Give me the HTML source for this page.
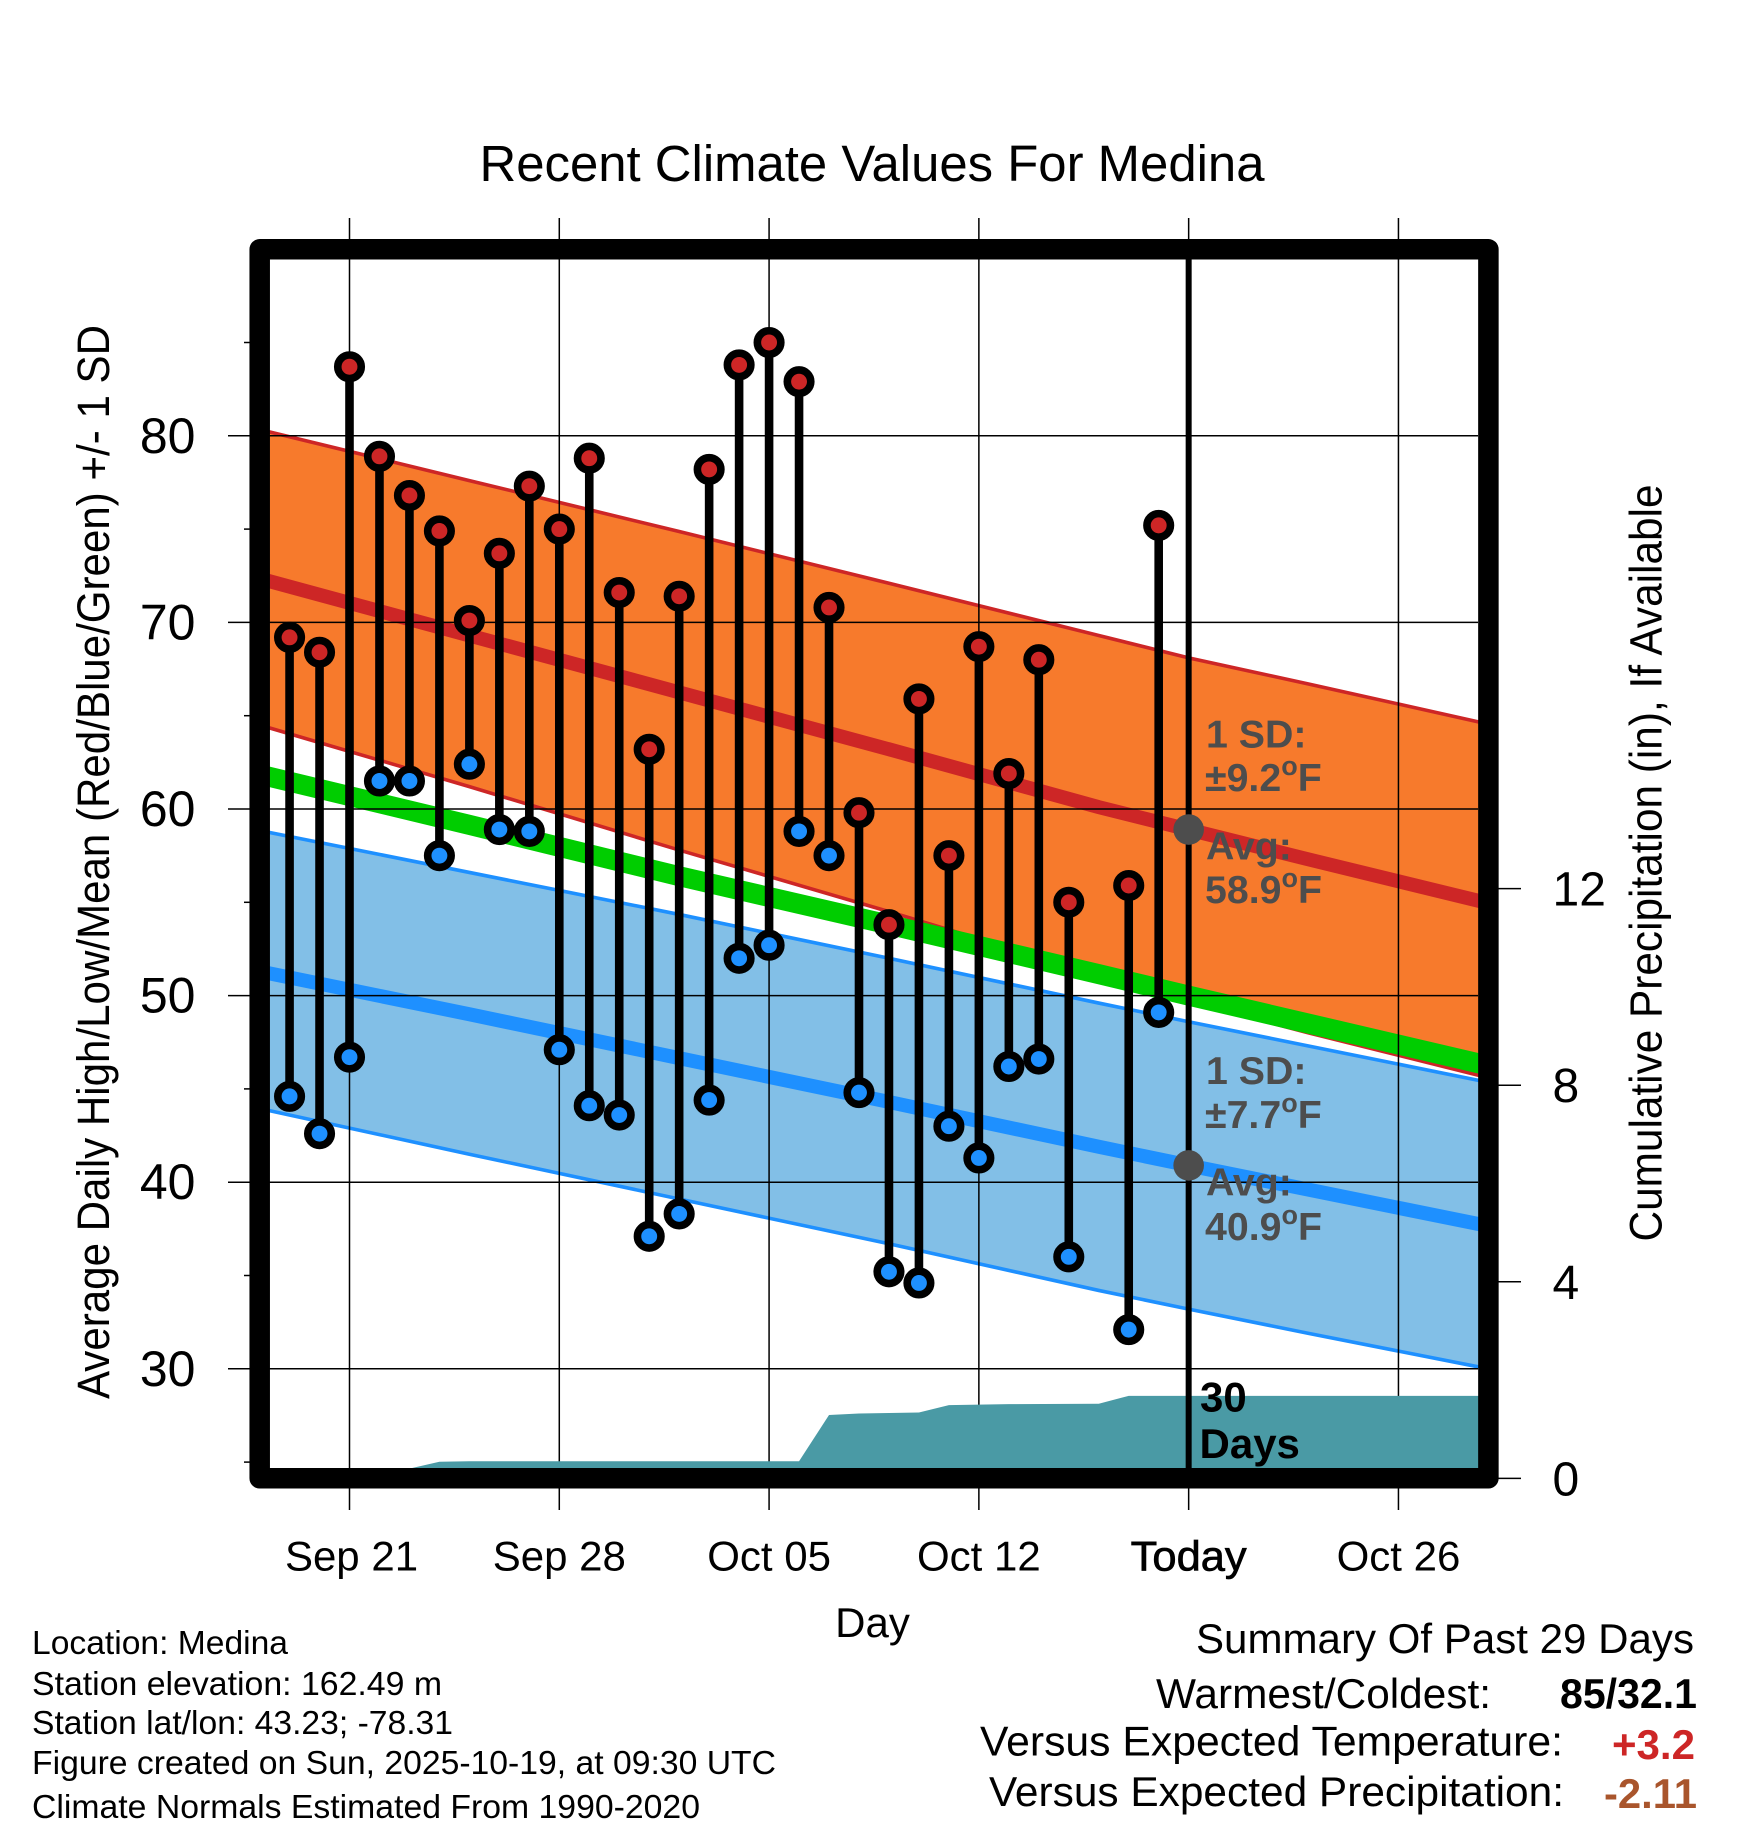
<!DOCTYPE html>
<html lang="en">
<head>
<meta charset="utf-8">
<title>Recent Climate Values For Medina</title>
<style>
html,body{margin:0;padding:0;background:#fff;}
svg{display:block;font-family:"Liberation Sans",Arial,sans-serif;}
</style>
</head>
<body>
<svg id="chart" width="1748" height="1828" viewBox="0 0 1748 1828" xmlns="http://www.w3.org/2000/svg">
  <defs>
    <clipPath id="plot-clip"><rect x="259" y="249" width="1230" height="1230"/></clipPath>
  </defs>
  <rect x="0" y="0" width="1748" height="1828" fill="#ffffff"/>
  <text x="872" y="181" font-size="51" text-anchor="middle" textLength="785" lengthAdjust="spacingAndGlyphs">Recent Climate Values For Medina</text>
  <g id="bands" clip-path="url(#plot-clip)"></g>
  <g id="grid"></g>
  <g id="precip" clip-path="url(#plot-clip)"></g>
  <g id="stems"></g>
  <g id="today"></g>
  <rect x="259.7" y="249.3" width="1228.7" height="1229" fill="none" stroke="#000" stroke-width="20.5" stroke-linejoin="round"/>
  <g id="labels" font-size="50"></g>

  <text transform="translate(109,862) rotate(-90)" font-size="45" text-anchor="middle" textLength="1074" lengthAdjust="spacingAndGlyphs">Average Daily High/Low/Mean (Red/Blue/Green) +/- 1 SD</text>
  <text transform="translate(1661.5,863) rotate(-90)" font-size="45" text-anchor="middle" textLength="757" lengthAdjust="spacingAndGlyphs">Cumulative Precipitation (in), If Available</text>
  <text x="872.5" y="1637" font-size="42" text-anchor="middle">Day</text>

  <g font-size="39.3" font-weight="bold" fill="#4d4d4d">
    <text x="1206" y="747.5">1 SD:</text>
    <text x="1205" y="791">±9.2<tspan font-size="27" dy="-16">o</tspan><tspan dy="16">F</tspan></text>
    <text x="1206" y="859.5">Avg:</text>
    <text x="1205" y="903">58.9<tspan font-size="27" dy="-16">o</tspan><tspan dy="16">F</tspan></text>
    <text x="1206" y="1084">1 SD:</text>
    <text x="1205" y="1128">±7.7<tspan font-size="27" dy="-16">o</tspan><tspan dy="16">F</tspan></text>
    <text x="1206" y="1195.6">Avg:</text>
    <text x="1205" y="1240">40.9<tspan font-size="27" dy="-16">o</tspan><tspan dy="16">F</tspan></text>
  </g>
  <text x="1200" y="1411.7" font-size="42" font-weight="bold">30</text>
  <text x="1199.5" y="1458" font-size="42" font-weight="bold">Days</text>

  <g font-size="33">
    <text x="32" y="1654" textLength="256" lengthAdjust="spacingAndGlyphs">Location: Medina</text>
    <text x="32" y="1695" textLength="410" lengthAdjust="spacingAndGlyphs">Station elevation: 162.49 m</text>
    <text x="32" y="1734" textLength="421" lengthAdjust="spacingAndGlyphs">Station lat/lon: 43.23; -78.31</text>
    <text x="32" y="1774" textLength="744" lengthAdjust="spacingAndGlyphs">Figure created on Sun, 2025-10-19, at 09:30 UTC</text>
    <text x="32" y="1818" textLength="668" lengthAdjust="spacingAndGlyphs">Climate Normals Estimated From 1990-2020</text>
  </g>

  <g font-size="42">
    <text x="1196" y="1653" textLength="498" lengthAdjust="spacingAndGlyphs">Summary Of Past 29 Days</text>
    <text x="1156" y="1708" textLength="335" lengthAdjust="spacingAndGlyphs">Warmest/Coldest:</text>
    <text x="1560" y="1708" font-weight="bold" textLength="137" lengthAdjust="spacingAndGlyphs">85/32.1</text>
    <text x="980" y="1755.7" textLength="583" lengthAdjust="spacingAndGlyphs">Versus Expected Temperature:</text>
    <text x="1612" y="1759" font-weight="bold" fill="#cd2626" textLength="83" lengthAdjust="spacingAndGlyphs">+3.2</text>
    <text x="989" y="1806" textLength="575" lengthAdjust="spacingAndGlyphs">Versus Expected Precipitation:</text>
    <text x="1604" y="1808" font-weight="bold" fill="#a9552c" textLength="93" lengthAdjust="spacingAndGlyphs">-2.11</text>
  </g>
</svg>
<script>
// Observation days, counted from Sep 21 (Oct 16 = day 25 has no record)
var obsDays = [-2,-1,0,1,2,3,4,5,6,7,8,9,10,11,12,13,14,15,16,17,18,19,20,21,22,23,24,26,27];
var highs = [69.2,68.4,83.7,78.9,76.8,74.9,70.1,73.7,77.3,75.0,78.8,71.6,63.2,71.4,78.2,83.8,85.0,82.9,70.8,59.8,53.8,65.9,57.5,68.7,61.9,68.0,55.0,55.9,75.2];
var lows = [44.6,42.6,46.7,61.5,61.5,57.5,62.4,58.9,58.8,47.1,44.1,43.6,37.1,38.3,44.4,52.0,52.7,58.8,57.5,44.8,35.2,34.6,43.0,41.3,46.2,46.6,36.0,32.1,49.1];

// Climate normals at sampled days
var normalDays = [-3,4,11,18,25,28,32,38];
var highPlusSd = [80.34,77.6,74.87,72.1,69.3,68.1,66.7,64.55];
var highMean = [72.35,69.3,66.25,63.2,60.1,58.9,57.3,54.95];
var highMinusSd = [64.5,61.2,57.8,54.5,51.1,49.7,48.0,45.6];
var overallMean = [61.85,59.15,56.4,53.8,51.15,50.0,48.5,46.25];
var lowPlusSd = [58.85,56.6,54.35,52.0,49.6,48.6,47.3,45.35];
var lowMean = [51.3,49.0,46.65,44.3,41.9,40.9,39.6,37.65];
var lowMinusSd = [43.95,41.5,39.1,36.7,34.2,33.2,31.9,30.0];

// Cumulative precipitation (inches)
var precipDays = [-3,1,2,3,4,15,16,17,18,19,20,21,22,25,26,38];
var precipValues = [0,0,0.2,0.34,0.35,0.35,1.29,1.32,1.33,1.34,1.49,1.50,1.51,1.52,1.68,1.68];

// Axis ticks
var xTickDays = [0,7,14,21,28,35];
var xTickLabels = ["Sep 21","Sep 28","Oct 05","Oct 12","Today","Oct 26"];
var yMajorTicks = [30,40,50,60,70,80];
var yMinorTicks = [25,35,45,55,65,75,85];
var precipTicks = [0,4,8,12];

// Today's normals
var todayDay = 28;
var todayHighAvg = 58.9;
var todayLowAvg = 40.9;

function xScale(d){ return 349.5 + 29.97 * d; }
function yScale(v){ return 809 + (60 - v) * 18.66; }
function pScale(v){ return 1478.4 - 49.15 * v; }

var NS = "http://www.w3.org/2000/svg";
function make(parent, tag, attrs){
  var el = document.createElementNS(NS, tag);
  for (var k in attrs) el.setAttribute(k, attrs[k]);
  parent.appendChild(el);
  return el;
}
function linePts(days, vals, scale){
  return days.map(function(d,i){ return xScale(d).toFixed(2) + "," + scale(vals[i]).toFixed(2); });
}

var bands = document.getElementById("bands");
var grid = document.getElementById("grid");
var precip = document.getElementById("precip");
var stems = document.getElementById("stems");
var today = document.getElementById("today");
var labels = document.getElementById("labels");

// Bands
var topPts = linePts(normalDays, highPlusSd, yScale);
var botPts = linePts(normalDays, highMinusSd, yScale).reverse();
var el;
el = make(bands, "polygon", {points: topPts.concat(botPts).join(" "), fill: "#f77a2c"});



var topLow = linePts(normalDays, lowPlusSd, yScale);
var botLow = linePts(normalDays, lowMinusSd, yScale).reverse();
el = make(bands, "polygon", {points: topLow.concat(botLow).join(" "), fill: "#82bfe7"});



el = make(bands, "polyline", {points: topPts.join(" "), fill: "none", stroke: "#cd2626", "stroke-width": 3.6});



el = make(bands, "polyline", {points: botPts.join(" "), fill: "none", stroke: "#cd2626", "stroke-width": 3.6});



el = make(bands, "polyline", {points: topLow.join(" "), fill: "none", stroke: "#1e90ff", "stroke-width": 3.6});



el = make(bands, "polyline", {points: botLow.join(" "), fill: "none", stroke: "#1e90ff", "stroke-width": 3.6});



el = make(bands, "polyline", {points: linePts(normalDays, overallMean, yScale).join(" "), fill: "none", stroke: "#00cd00", "stroke-width": 20});



el = make(bands, "polyline", {points: linePts(normalDays, highMean, yScale).join(" "), fill: "none", stroke: "#cd2626", "stroke-width": 14});



el = make(bands, "polyline", {points: linePts(normalDays, lowMean, yScale).join(" "), fill: "none", stroke: "#1e90ff", "stroke-width": 14});



// Grid and ticks
xTickDays.forEach(function(d, i){
  var x = xScale(d);
  var ln = make(grid, "line", {x1: x, x2: x, y1: 218, y2: 1510, stroke: "#000", "stroke-width": 1.5});
  
  
  var t = make(labels, "text", {x: x + (i === 0 ? 2 : 0), y: 1570.7, "text-anchor": "middle", "font-size": 42});
  
  
  if (xTickLabels[i] === "Today") {
    t.setAttribute("stroke", "#000");
    t.setAttribute("stroke-width", "0.7");
    t.setAttribute("textLength", "116");
    t.setAttribute("lengthAdjust", "spacingAndGlyphs");
  }
  t.textContent = xTickLabels[i];
});
yMajorTicks.forEach(function(v){
  var y = yScale(v);
  var ln = make(grid, "line", {x1: 228, x2: 1478, y1: y, y2: y, stroke: "#000", "stroke-width": 1.5});
  
  
  var t = make(labels, "text", {x: 195.5, y: y + 17, "text-anchor": "end"});
  
  
  t.textContent = String(v);
});
yMinorTicks.forEach(function(v){
  var y = yScale(v);
  var ln = make(grid, "line", {x1: 244, x2: 252, y1: y, y2: y, stroke: "#000", "stroke-width": 1.5});
  
  
});
precipTicks.forEach(function(v){
  var y = pScale(v);
  var ln = make(grid, "line", {x1: 1495, x2: 1521, y1: y, y2: y, stroke: "#000", "stroke-width": 1.5});
  
  
  var t = make(labels, "text", {x: 1552.5, y: y + 17, "font-size": 48});
  
  
  t.textContent = String(v);
});

// Precipitation area
var pPts = linePts(precipDays, precipValues, pScale);
pPts.push(xScale(precipDays[precipDays.length - 1]).toFixed(2) + "," + pScale(0).toFixed(2));
pPts.push(xScale(precipDays[0]).toFixed(2) + "," + pScale(0).toFixed(2));
el = make(precip, "polygon", {points: pPts.join(" "), fill: "#4a9aa5"});



// Stems and markers
obsDays.forEach(function(d, i){
  var x = xScale(d);
  var s = make(stems, "line", {x1: x, x2: x, y1: yScale(highs[i]), y2: yScale(lows[i]), stroke: "#000", "stroke-width": 8.6});
  
  
});
obsDays.forEach(function(d, i){
  var x = xScale(d);
  var hi = make(stems, "circle", {cx: x, cy: yScale(highs[i]), r: 11.75, fill: "#cd2626", stroke: "#000", "stroke-width": 7.6});
  
  
  var lo = make(stems, "circle", {cx: x, cy: yScale(lows[i]), r: 11.75, fill: "#1e90ff", stroke: "#000", "stroke-width": 7.6});
  
  
});

// Today marker
var tx = xScale(todayDay);
el = make(today, "line", {x1: tx, x2: tx, y1: 259, y2: 1469, stroke: "#000", "stroke-width": 6});


el = make(today, "circle", {cx: tx, cy: yScale(todayHighAvg), r: 15.3, fill: "#4d4d4d"});


el = make(today, "circle", {cx: tx, cy: yScale(todayLowAvg), r: 15.3, fill: "#4d4d4d"});


</script>
</body>
</html>
